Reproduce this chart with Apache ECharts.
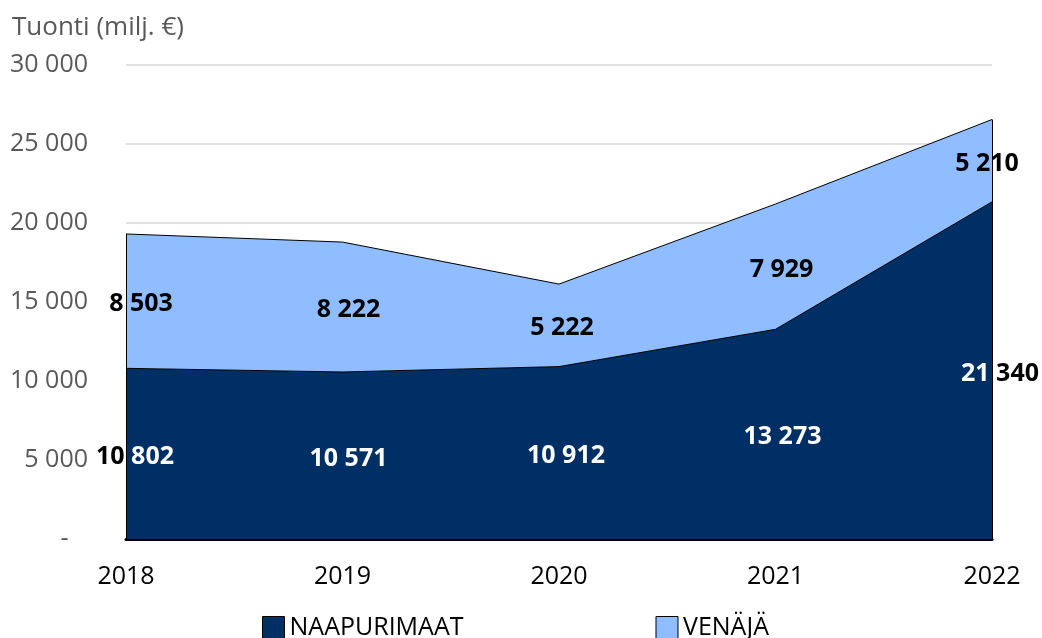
<!DOCTYPE html>
<html>
<head>
<meta charset="utf-8">
<script src="https://cdn.jsdelivr.net/npm/echarts@6/dist/echarts.min.js"></script>
<style>
html,body{margin:0;padding:0;background:#fff;}
#canvas{width:1042px;height:638px;}
</style>
</head>
<body>
<div id="canvas"></div>
<script>
var years = ['2018', '2019', '2020', '2021', '2022'];
var naapurimaat = [10802, 10571, 10912, 13273, 21340];
var venaja = [8503, 8222, 5222, 7929, 5210];
var yTicks = [0, 5000, 10000, 15000, 20000, 25000, 30000];

var darkBlue = '#002f66';
var lightBlue = '#8fbdff';
var fontFam = '"Open Sans", "Noto Sans", sans-serif';

function fmt(v){
	return String(v).replace(/\B(?=(\d{3})+(?!\d))/g, ' ');
}

// label anchors in the middle of each band
var midDark = [], midLight = [], totals = [];
for (var i = 0; i < years.length; i++) {
	midDark.push([i, naapurimaat[i] / 2]);
	midLight.push([i, naapurimaat[i] + venaja[i] / 2]);
	totals.push(naapurimaat[i] + venaja[i]);
}
var darkOffsets = [9, 6, 7, 7, 8];
var lightOffsets = [15, 6, 3, 6, -5];

// text labels drawn through the chart's scales; clip keeps them inside the plot
function labelSeries(data, values, color, z, offsets, clip){
	return {
		type: 'custom',
		z: z,
		silent: true,
		data: data,
		renderItem: function(params, api){
			var pt = api.coord([api.value(0), api.value(1)]);
			var cs = params.coordSys;
			var el = {
				type: 'text',
				x: pt[0] + offsets[params.dataIndex],
				y: pt[1] + 3,
				style: {
					text: fmt(values[params.dataIndex]),
					fill: color,
					font: 'bold 25px ' + fontFam,
					align: 'center',
					verticalAlign: 'middle'
				}
			};
			var group = {type: 'group', children: [el]};
			if (clip) {
				group.clipPath = {type: 'rect', shape: {x: cs.x, y: cs.y, width: cs.width, height: cs.height}};
			}
			return group;
		}
	};
}

var myChart = echarts.init(document.getElementById('canvas'));
var option = {
	animation: false,
	title: {
		text: 'Tuonti (milj. €)',
		left: 7,
		top: 10,
		textStyle: {color: '#595959', fontFamily: fontFam, fontWeight: 'normal', fontSize: 26}
	},
	legend: {
		data: ['NAAPURIMAAT', 'VENÄJÄ'],
		left: 257,
		top: 610,
		itemWidth: 22,
		itemHeight: 22,
		itemGap: 192,
		icon: 'rect',
		itemStyle: {borderColor: '#000', borderWidth: 1},
		textStyle: {color: '#000', fontFamily: fontFam, fontSize: 25}
	},
	grid: {left: 126, right: 50, top: 65, bottom: 99},
	xAxis: {
		type: 'category',
		boundaryGap: false,
		data: years,
		axisTick: {show: false},
		axisLine: {lineStyle: {color: '#000', width: 3}},
		axisLabel: {color: '#000', fontFamily: fontFam, fontSize: 25, margin: 25}
	},
	yAxis: {
		type: 'value',
		min: yTicks[0],
		max: yTicks[yTicks.length - 1],
		interval: yTicks[1] - yTicks[0],
		axisLine: {show: false},
		axisTick: {show: false},
		splitLine: {lineStyle: {color: '#d9d9d9', width: 1.5}},
		axisLabel: {
			color: '#595959',
			fontFamily: fontFam,
			fontSize: 25,
			margin: 38,
			formatter: function(v){ return v === 0 ? '-\u00a0\u00a0\u00a0' : fmt(v); }
		}
	},
	series: [
		labelSeries(midDark, naapurimaat, '#000', 1, darkOffsets, false),
		{
			name: 'NAAPURIMAAT',
			type: 'line',
			stack: 'total',
			z: 2,
			symbol: 'none',
			lineStyle: {color: '#000', width: 1},
			itemStyle: {color: darkBlue},
			areaStyle: {color: darkBlue, opacity: 1},
			data: naapurimaat
		},
		{
			name: 'VENÄJÄ',
			type: 'line',
			stack: 'total',
			z: 2,
			symbol: 'none',
			lineStyle: {color: '#000', width: 1},
			itemStyle: {color: lightBlue},
			areaStyle: {color: lightBlue, opacity: 1},
			data: venaja,
			markLine: {
				silent: true,
				symbol: 'none',
				label: {show: false},
				lineStyle: {color: '#000', width: 1, type: 'solid'},
				data: [
					[{coord: [0, 0]}, {coord: [0, totals[0]]}],
					[{coord: [years.length - 1, 0]}, {coord: [years.length - 1, totals[years.length - 1]]}]
				]
			}
		},
		labelSeries(midDark, naapurimaat, '#fff', 3, darkOffsets, true),
		labelSeries(midLight, venaja, '#000', 3, lightOffsets, false)
	]
};
myChart.setOption(option);
window.onresize = myChart.resize;
</script>
</body>
</html>
